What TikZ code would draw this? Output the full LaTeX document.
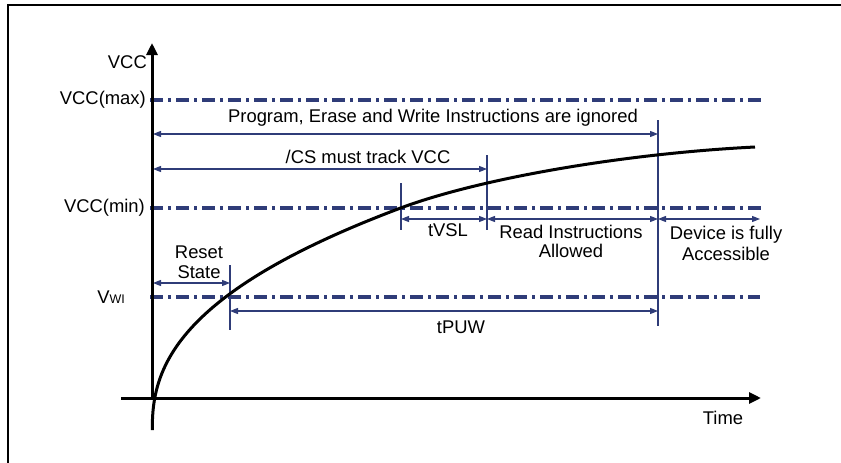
\documentclass[tikz,border=0pt]{standalone}
\usepackage{fontspec}
\setmainfont{Liberation Sans}
\usetikzlibrary{arrows.meta}
\definecolor{nv}{RGB}{47,60,120}
\begin{document}
\begin{tikzpicture}[x=1pt,y=-1pt,
  font=\fontsize{18.4}{20}\selectfont,
  guide/.style={nv, line width=3.4pt, dash pattern=on 13pt off 5pt on 3pt off 5pt},
  dimline/.style={nv, line width=1.1pt, {Triangle[length=8pt,width=6pt]}-{Triangle[length=8pt,width=6pt]}},
  marker/.style={nv, line width=1.3pt},
  axisline/.style={line width=3pt, -{Triangle[length=12pt,width=11pt]}},
  lbl/.style={inner sep=0pt, align=center},
  vlbl/.style={inner sep=0pt, anchor=east}]
\useasboundingbox (0,0) rectangle (841,463);
% frame
\draw[line width=2pt] (8,463) -- (8,5) -- (841,5);

% key coordinates
\coordinate (O) at (152,398);
\coordinate (ytop) at (152,43);
\coordinate (xl) at (121,398);
\coordinate (xr) at (761,398);

% guide lines
\coordinate (gmaxL) at (150,100); \coordinate (gmaxR) at (763,100);
\coordinate (gminL) at (150,208); \coordinate (gminR) at (763,208);
\coordinate (gwiL) at (150,297);  \coordinate (gwiR) at (760,297);
\draw[guide] (gmaxL) -- (gmaxR);
\draw[guide] (gminL) -- (gminR);
\draw[guide] (gwiL) -- (gwiR);

% markers
\coordinate (m1t) at (230,265); \coordinate (m1b) at (230,330);
\coordinate (m2t) at (401,183); \coordinate (m2b) at (401,230);
\coordinate (m3t) at (487,155); \coordinate (m3b) at (487,230);
\coordinate (m4t) at (658,120); \coordinate (m4b) at (658,326);
\draw[marker] (m1t) -- (m1b);
\draw[marker] (m2t) -- (m2b);
\draw[marker] (m3t) -- (m3b);
\draw[marker] (m4t) -- (m4b);

% dimension arrows
\coordinate (pA) at (153,134); \coordinate (pB) at (658,134);
\coordinate (cA) at (153,169); \coordinate (cB) at (487,169);
\coordinate (vA) at (401,219); \coordinate (vB) at (487,219);
\coordinate (rB) at (658,219); \coordinate (dB) at (760,219);
\coordinate (sA) at (153,283); \coordinate (sB) at (230,283);
\coordinate (tA) at (230,311); \coordinate (tB) at (658,311);
\draw[dimline] (pA) -- (pB);
\draw[dimline] (cA) -- (cB);
\draw[dimline] (vA) -- (vB);
\draw[dimline] (vB) -- (rB);
\draw[dimline] (rB) -- (dB);
\draw[dimline] (sA) -- (sB);
\draw[dimline] (tA) -- (tB);

% curve
\coordinate (cstart) at (152.3,430);
\coordinate (cend) at (755,147);
\draw[line width=3pt, line join=round] (cstart) -- plot[domain=0.05:221.7, samples=120, variable=\s]
  ({152.3+(\s/21.9)^2.381},{430-\s})
  .. controls (480,178.2) and (625,153.5) .. (cend);

% axes
\draw[axisline] (O) -- (ytop);
\draw[axisline] (xl) -- (xr);

% labels
\node[vlbl] (lvcc) at (147,62) {VCC};
\node[vlbl] (lmax) at (146,100) {VCC(max)};
\node[vlbl] (lmin) at (145,208) {VCC(min)};
\node[vlbl] (lwi) at (125,297) {V{\fontsize{12.5}{13}\selectfont WI}};
\node[lbl] (tprog) at (433,118) {Program, Erase and Write Instructions are ignored};
\node[lbl] (tcs) at (368,157) {/CS must track VCC};
\node[lbl] (tvsl) at (448,230) {tVSL};
\node[lbl, font=\fontsize{18.4}{19}\selectfont] (tread) at (571,241) {Read Instructions\\Allowed};
\node[lbl, font=\fontsize{18.4}{21}\selectfont] (tdev) at (726,243.5) {Device is fully\\Accessible};
\node[lbl, font=\fontsize{18.4}{20}\selectfont] (treset) at (199,262) {Reset\\State};
\node[lbl] (tpuw) at (461,327) {tPUW};
\node[lbl] (ttime) at (723,418) {Time};
\end{tikzpicture}
\end{document}
